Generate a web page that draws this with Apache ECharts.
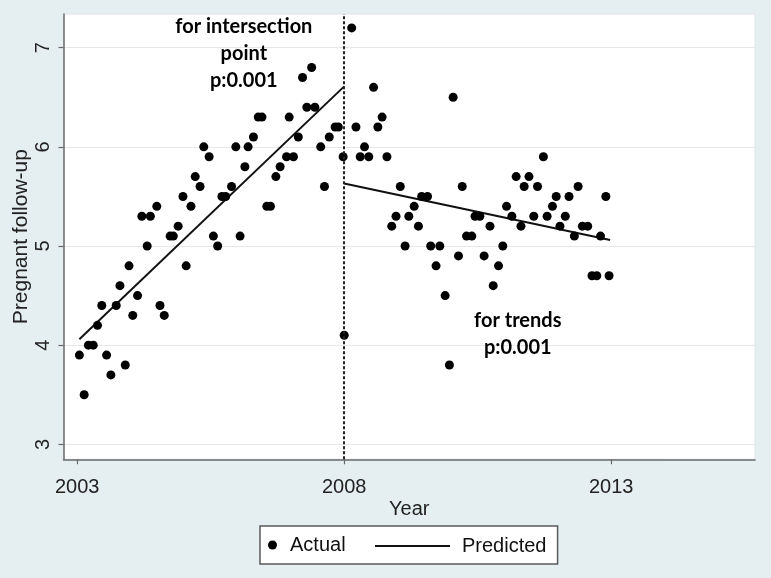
<!DOCTYPE html>
<html>
<head>
<meta charset="utf-8">
<script src="https://cdn.jsdelivr.net/npm/echarts@6/dist/echarts.min.js"></script>
<style>
html,body{margin:0;padding:0;background:#e5eef0;}
#c{width:771px;height:578px;}
</style>
</head>
<body>
<div id="c"></div>
<script>
// ---- data ----
const actualYears = [
  2003.04,2003.13,2003.21,2003.30,2003.38,2003.46,2003.55,2003.63,2003.73,2003.80,
  2003.90,2003.97,2004.04,2004.13,2004.21,2004.31,2004.37,2004.49,2004.55,2004.63,
  2004.74,2004.80,2004.89,2004.98,2005.04,2005.13,2005.21,2005.30,2005.37,2005.47,
  2005.55,2005.63,2005.71,2005.78,2005.89,2005.97,2006.05,2006.14,2006.20,2006.30,
  2006.39,2006.46,2006.55,2006.62,2006.72,2006.80,2006.92,2006.97,2007.05,2007.14,
  2007.22,2007.30,2007.39,2007.45,2007.56,2007.63,2007.72,2007.83,2007.89,2007.98,
  2008.00,
  2008.14,2008.22,2008.30,2008.38,2008.46,2008.55,2008.63,2008.71,2008.80,2008.89,
  2008.97,2009.05,2009.14,2009.21,2009.31,2009.39,2009.45,2009.56,2009.62,2009.72,
  2009.79,2009.89,2009.97,2010.04,2010.14,2010.21,2010.29,2010.39,2010.45,2010.54,
  2010.62,2010.73,2010.79,2010.89,2010.97,2011.04,2011.14,2011.22,2011.31,2011.37,
  2011.46,2011.55,2011.62,2011.73,2011.80,2011.90,2011.97,2012.04,2012.14,2012.21,
  2012.31,2012.38,2012.46,2012.56,2012.64,2012.73,2012.80,2012.90,2012.96
];
const actualValues = [
  3.9,3.5,4.0,4.0,4.2,4.4,3.9,3.7,4.4,4.6,
  3.8,4.8,4.3,4.5,5.3,5.0,5.3,5.4,4.4,4.3,
  5.1,5.1,5.2,5.5,4.8,5.4,5.7,5.6,6.0,5.9,
  5.1,5.0,5.5,5.5,5.6,6.0,5.1,5.8,6.0,6.1,
  6.3,6.3,5.4,5.4,5.7,5.8,5.9,6.3,5.9,6.1,
  6.7,6.4,6.8,6.4,6.0,5.6,6.1,6.2,6.2,5.9,
  4.1,
  7.2,6.2,5.9,6.0,5.9,6.6,6.2,6.3,5.9,5.2,
  5.3,5.6,5.0,5.3,5.4,5.2,5.5,5.5,5.0,4.8,
  5.0,4.5,3.8,6.5,4.9,5.6,5.1,5.1,5.3,5.3,
  4.9,5.2,4.6,4.8,5.0,5.4,5.3,5.7,5.2,5.6,
  5.7,5.3,5.6,5.9,5.3,5.4,5.5,5.2,5.3,5.5,
  5.1,5.6,5.2,5.2,4.7,4.7,5.1,5.5,4.7
];
const predPreYears = [2003.04, 2008.00];
const predPreValues = [4.06, 6.61];
const predPostYears = [2008.00, 2012.98];
const predPostValues = [5.63, 5.06];
const interventionYear = 2008;
const xTickLabels = [2003, 2008, 2013];
const yTickLabels = [3, 4, 5, 6, 7];
const noteTexts = ['for intersection\npoint\np:0.001', 'for trends\np:0.001'];
const noteYears = [2006.12, 2011.25];
const noteValues = [6.94, 4.11];

// ---- chart ----
const zip = (a, b) => a.map((v, i) => [v, b[i]]);
const FONT = 'Liberation Sans, Arial, sans-serif';
const chart = echarts.init(document.getElementById('c'));
chart.setOption({
  animation: false,
  backgroundColor: '#e5eef0',
  grid: {
    left: 63.5, right: 16, top: 14, bottom: 118.7,
    outerBoundsMode: 'none', containLabel: false,
    show: true, backgroundColor: '#ffffff', borderColor: '#dde5e7', borderWidth: 1
  },
  xAxis: {
    type: 'value', min: 2002.743, max: 2015.693,
    name: 'Year', nameLocation: 'middle', nameGap: 40, nameMoveOverlap: false,
    nameTextStyle: { fontSize: 20, fontFamily: FONT, color: '#222' },
    axisLine: { show: true, lineStyle: { color: '#6a6a6a', width: 1.5 } },
    axisTick: { show: true, customValues: xTickLabels, length: 5, lineStyle: { color: '#6a6a6a', width: 1.2 } },
    axisLabel: { customValues: xTickLabels, formatter: v => String(v), fontSize: 20, fontFamily: FONT, color: '#222', margin: 18 },
    splitLine: { show: false }
  },
  yAxis: {
    type: 'value', min: 2.849, max: 7.34,
    name: 'Pregnant follow-up', nameLocation: 'middle', nameGap: 32, nameMoveOverlap: false,
    nameTextStyle: { fontSize: 21, fontFamily: FONT, color: '#222' },
    axisLine: { show: true, lineStyle: { color: '#6a6a6a', width: 1.5 } },
    axisTick: { show: true, customValues: yTickLabels, length: 5, lineStyle: { color: '#6a6a6a', width: 1.2 } },
    axisLabel: { customValues: yTickLabels, rotate: 90, fontSize: 20, fontFamily: FONT, color: '#222', margin: 10 },
    splitLine: { show: true, lineStyle: { color: '#e6e9ea', width: 1.2 } }
  },
  legend: [
    {
      data: [{ name: 'Actual', icon: 'circle' }],
      left: 260, top: 526, itemWidth: 25, itemHeight: 9,
      padding: [9, 212, 9, 8],
      borderColor: '#5a5a5a', borderWidth: 1.5, backgroundColor: '#ffffff',
      selectedMode: false,
      textStyle: { fontSize: 20, fontFamily: FONT, color: '#111' }
    },
    {
      data: [{ name: 'Predicted', icon: 'rect' }],
      left: 375, top: 536, itemWidth: 75, itemHeight: 2,
      padding: 0, selectedMode: false, z: 10,
      textStyle: { fontSize: 20, fontFamily: FONT, color: '#111', padding: [0, 0, 0, 7] }
    }
  ],
  series: [
    {
      name: 'Actual', type: 'scatter', symbol: 'circle', symbolSize: 9,
      itemStyle: { color: '#000', opacity: 1 },
      data: zip(actualYears, actualValues), z: 3
    },
    {
      name: 'Predicted', type: 'line', symbol: 'none',
      lineStyle: { color: '#111', width: 2 }, itemStyle: { color: '#111' },
      data: zip(predPreYears, predPreValues),
      markLine: {
        silent: true, symbol: ['none', 'none'], label: { show: false },
        lineStyle: { color: '#222', width: 2, type: [3, 2] },
        data: [{ xAxis: interventionYear }]
      }
    },
    {
      name: 'Predicted', type: 'line', symbol: 'none',
      lineStyle: { color: '#111', width: 2 }, itemStyle: { color: '#111' },
      data: zip(predPostYears, predPostValues)
    },
    {
      name: 'notes', type: 'scatter', symbolSize: 0, silent: true,
      itemStyle: { opacity: 1 },
      data: noteYears.map((x, i) => ({ value: [x, noteValues[i]], text: noteTexts[i] })),
      label: {
        show: true, position: 'inside',
        formatter: p => p.data.text,
        fontFamily: 'Lato, Open Sans, sans-serif', fontWeight: 'bold',
        fontSize: 20, lineHeight: 27, color: '#000', align: 'center'
      }
    }
  ]
});
</script>
</body>
</html>
